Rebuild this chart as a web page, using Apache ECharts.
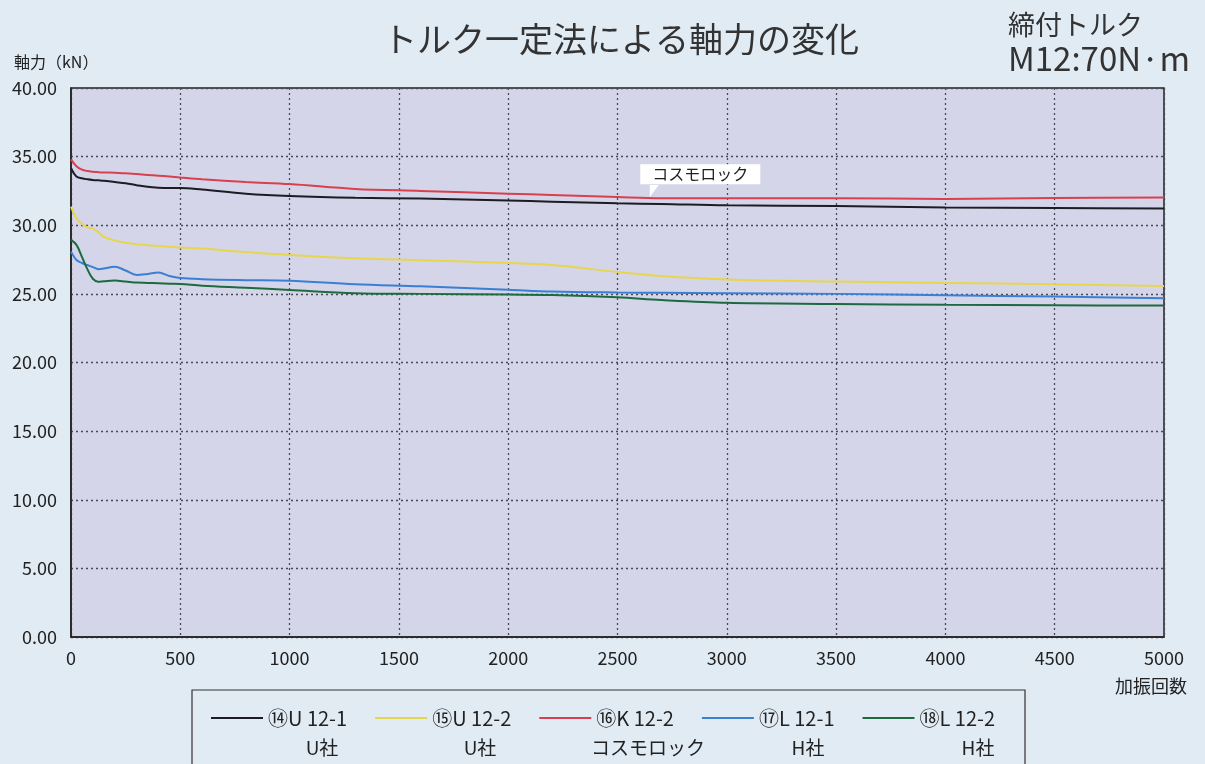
<!DOCTYPE html>
<html>
<head>
<meta charset="utf-8">
<script src="https://cdn.jsdelivr.net/npm/echarts@6/dist/echarts.min.js"></script>
<style>
html, body { margin: 0; padding: 0; background: #e1ebf4; }
#main { width: 1205px; height: 764px; }
</style>
</head>
<body>
<div id="main"></div>
<script>
// 加振回数
var cycles = [0, 25, 50, 75, 100, 125, 150, 200, 250, 300, 350, 400, 450, 500, 600, 800,
    1000, 1300, 1600, 2000, 2200, 2500, 2700, 3000, 3500, 4000, 4500, 5000];
// 軸力(kN)
var u121 = [34.15, 33.55, 33.42, 33.35, 33.3, 33.27, 33.24, 33.15, 33.06, 32.92, 32.8, 32.74, 32.72, 32.72, 32.6, 32.3,
    32.13, 32.0, 31.95, 31.8, 31.72, 31.6, 31.55, 31.45, 31.4, 31.3, 31.25, 31.22];
var u122 = [31.36, 30.5, 30.1, 29.85, 29.75, 29.5, 29.15, 28.9, 28.72, 28.62, 28.55, 28.48, 28.43, 28.38, 28.3, 28.05,
    27.84, 27.6, 27.45, 27.25, 27.1, 26.6, 26.3, 26.05, 25.9, 25.8, 25.7, 25.58];
var k122 = [34.8, 34.3, 34.05, 33.95, 33.9, 33.87, 33.85, 33.82, 33.79, 33.73, 33.67, 33.61, 33.55, 33.48, 33.35, 33.15,
    33.0, 32.65, 32.5, 32.3, 32.2, 32.05, 31.97, 31.97, 31.97, 31.92, 31.98, 32.03];
var l121 = [28.08, 27.47, 27.25, 27.1, 26.95, 26.8, 26.85, 26.98, 26.7, 26.38, 26.45, 26.55, 26.3, 26.15, 26.07, 26.0,
    25.95, 25.7, 25.55, 25.3, 25.17, 25.1, 25.08, 25.05, 25.0, 24.9, 24.8, 24.68];
var l122 = [28.93, 28.57, 27.7, 26.8, 26.1, 25.89, 25.92, 25.97, 25.9, 25.82, 25.8, 25.77, 25.74, 25.72, 25.6, 25.45,
    25.29, 25.05, 25.0, 24.95, 24.92, 24.75, 24.55, 24.35, 24.27, 24.2, 24.17, 24.15];

var names = ['⑭U 12-1', '⑮U 12-2', '⑯K 12-2', '⑰L 12-1', '⑱L 12-2'];
var makers = ['U社', 'U社', 'コスモロック', 'H社', 'H社'];
var colors = ['#1c1c24', '#e6d64e', '#d8404e', '#3a7fd4', '#1d6a3e'];
var values = [u121, u122, k122, l121, l122];

var font = '"Noto Sans CJK JP", "Noto Sans", sans-serif';

function pairs(ys) {
    return cycles.map(function (c, i) { return [c, ys[i]]; });
}

var chart = echarts.init(document.getElementById('main'));

var series = values.map(function (ys, i) {
    return {
        name: names[i],
        type: 'line',
        data: pairs(ys),
        smooth: 0.35,
        showSymbol: false,
        lineStyle: { color: colors[i], width: 2 },
        itemStyle: { color: colors[i] },
        z: i === 2 ? 5 : 3
    };
});

// コスモロックの吹き出し
series[2].markPoint = {
    silent: true,
    data: [{
        coord: [2650, 31.97],
        symbol: 'rect',
        symbolSize: 0,
        label: {
            show: true,
            formatter: 'コスモロック',
            position: 'top',
            distance: 0,
            offset: [50, -14],
            backgroundColor: '#ffffff',
            padding: [2, 12, 2, 12],
            color: '#222',
            fontSize: 16,
            fontFamily: font
        }
    }, {
        coord: [2650, 32.5],
        symbol: 'path://M0,0 L10,0 L0,14 Z',
        symbolSize: [9, 12],
        symbolOffset: [4, 0],
        itemStyle: { color: '#ffffff' },
        label: { show: false }
    }]
};

// 凡例2段目（メーカー名）
var makerX = [322, 480, 648, 808, 978];
var legendTexts = makers.map(function (m, i) {
    return {
        type: 'text',
        x: makerX[i],
        y: 748,
        style: {
            text: m,
            align: 'center',
            verticalAlign: 'middle',
            font: '19px ' + font,
            fill: '#222'
        }
    };
});

var option = {
    backgroundColor: '#e1ebf4',
    textStyle: { fontFamily: font },
    title: [{
        text: 'トルク一定法による軸力の変化',
        left: 378,
        top: 17,
        textStyle: { fontSize: 34, fontWeight: 'normal', color: '#333', fontFamily: font }
    }, {
        text: '締付トルク',
        left: 1003,
        top: 6,
        textStyle: { fontSize: 27, fontWeight: 'normal', color: '#333', fontFamily: font }
    }, {
        text: 'M12:70N·m',
        left: 1003,
        top: 37,
        textStyle: { fontSize: 33, fontWeight: 'normal', color: '#333', fontFamily: font }
    }],
    grid: {
        left: 71,
        right: 41,
        top: 88,
        bottom: 127,
        show: true,
        backgroundColor: '#d5d5ea',
        borderColor: '#222',
        borderWidth: 1.5
    },
    legend: {
        data: names,
        left: 206,
        top: 703,
        itemWidth: 52,
        itemHeight: 2,
        itemGap: 28,
        icon: 'rect',
        textStyle: { fontSize: 20, color: '#222', fontFamily: font }
    },
    xAxis: {
        type: 'value',
        min: 0,
        max: 5000,
        interval: 500,
        name: '加振回数',
        nameLocation: 'end',
        nameGap: 23,
        nameTextStyle: {
            fontSize: 18, color: '#222', align: 'right', verticalAlign: 'top',
            padding: [40, 0, 0, 0], fontFamily: font
        },
        axisLine: { show: true, lineStyle: { color: '#222', width: 1.5 } },
        axisTick: { show: false },
        axisLabel: {
            fontSize: 18, color: '#222', margin: 12, fontFamily: font,
            formatter: function (v) { return String(v); }
        },
        splitLine: { show: true, lineStyle: { color: '#4a4a55', type: [2, 3], width: 1.3 } }
    },
    yAxis: {
        type: 'value',
        min: 0,
        max: 40,
        interval: 5,
        name: '軸力（kN）',
        nameLocation: 'end',
        nameGap: 18,
        nameTextStyle: {
            fontSize: 16, color: '#222', align: 'left',
            padding: [0, 0, 0, -57], fontFamily: font
        },
        axisLine: { show: true, lineStyle: { color: '#222', width: 1.5 } },
        axisTick: { show: false },
        axisLabel: {
            fontSize: 18, color: '#222', margin: 14, fontFamily: font,
            formatter: function (v) { return v.toFixed(2); }
        },
        splitLine: { show: true, lineStyle: { color: '#4a4a55', type: [2, 3], width: 1.3 } }
    },
    graphic: [{
        type: 'rect',
        shape: { x: 192, y: 690, width: 833, height: 90 },
        style: { fill: 'none', stroke: '#333', lineWidth: 1.2 },
        z: 0
    }].concat(legendTexts),
    series: series
};

chart.setOption(option);
</script>
</body>
</html>
